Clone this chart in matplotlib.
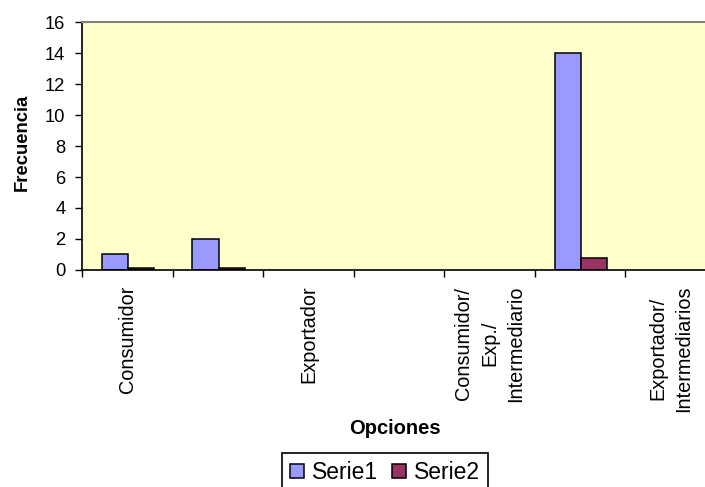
import matplotlib
matplotlib.use("Agg")
import matplotlib.pyplot as plt
import numpy as np

plt.rcParams["font.family"] = ["Liberation Sans", "DejaVu Sans"]

categories = ["Consumidor", "", "Exportador", "", "Consumidor/\nExp./\nIntermediario", "",
              "Exportador/\nIntermediarios"]
serie1 = [1, 2, 0, 0, 0, 14, 0]
serie2 = [0.1, 0.1, 0, 0, 0, 0.8, 0]
series_names = ["Serie1", "Serie2"]
yticks = [0, 2, 4, 6, 8, 10, 12, 14, 16]

fig = plt.figure(figsize=(7.05, 4.87), dpi=100)
ax = fig.add_axes([0.1163, 0.4456, 0.8993, 0.5092])
ax.set_facecolor("#FFFFCC")

x = np.arange(len(categories))
w = 0.29
# zero-valued bars get no outline (Excel draws nothing there)
lw1 = [1.1 if v else 0 for v in serie1]
lw2 = [1.1 if v else 0 for v in serie2]
b1 = ax.bar(x - 0.135, serie1, w, color="#9999FF", edgecolor="black", linewidth=lw1,
            label=series_names[0])
b2 = ax.bar(x + 0.155, serie2, w, color="#993366", edgecolor="black", linewidth=lw2,
            label=series_names[1])

ax.set_xlim(-0.5, len(categories) - 0.5)
ax.set_ylim(0, 16)
ax.set_yticks(yticks)
ax.tick_params(axis="y", labelsize=13.2, length=5, width=1, pad=7, direction="out")

ax.set_xticks(x)
ax.set_xticklabels(categories, rotation=90, fontsize=14.3, ha="center", va="top",
                   multialignment="center", linespacing=1.45)
ax.tick_params(axis="x", length=0, pad=11)
ax.set_xticks(np.arange(-0.5, len(categories)), minor=True)
ax.tick_params(axis="x", which="minor", length=5, width=1, direction="out")

for s in ["left", "bottom"]:
    ax.spines[s].set_color("black")
    ax.spines[s].set_linewidth(1.2)
for s in ["top", "right"]:
    ax.spines[s].set_color("#808080")
    ax.spines[s].set_linewidth(1.5)

fig.text(22 / 705, 1 - 142 / 487, "Frecuencia", rotation=90, ha="center", va="center",
         fontsize=13.3, fontweight="bold")
fig.text(395 / 705, 1 - 429 / 487, "Opciones", ha="center", va="center",
         fontsize=14.5, fontweight="bold")

leg = fig.legend(handles=[b1, b2], loc="upper center", bbox_to_anchor=(385 / 705, 1 - 453 / 487),
                 ncol=2, fontsize=16.5, frameon=True, fancybox=False, framealpha=1,
                 edgecolor="black", handlelength=0.6, handleheight=0.6, handletextpad=0.35,
                 columnspacing=0.6, borderpad=0.35, borderaxespad=0)
leg.get_frame().set_linewidth(1.2)

fig.savefig("out.png", dpi=100)
